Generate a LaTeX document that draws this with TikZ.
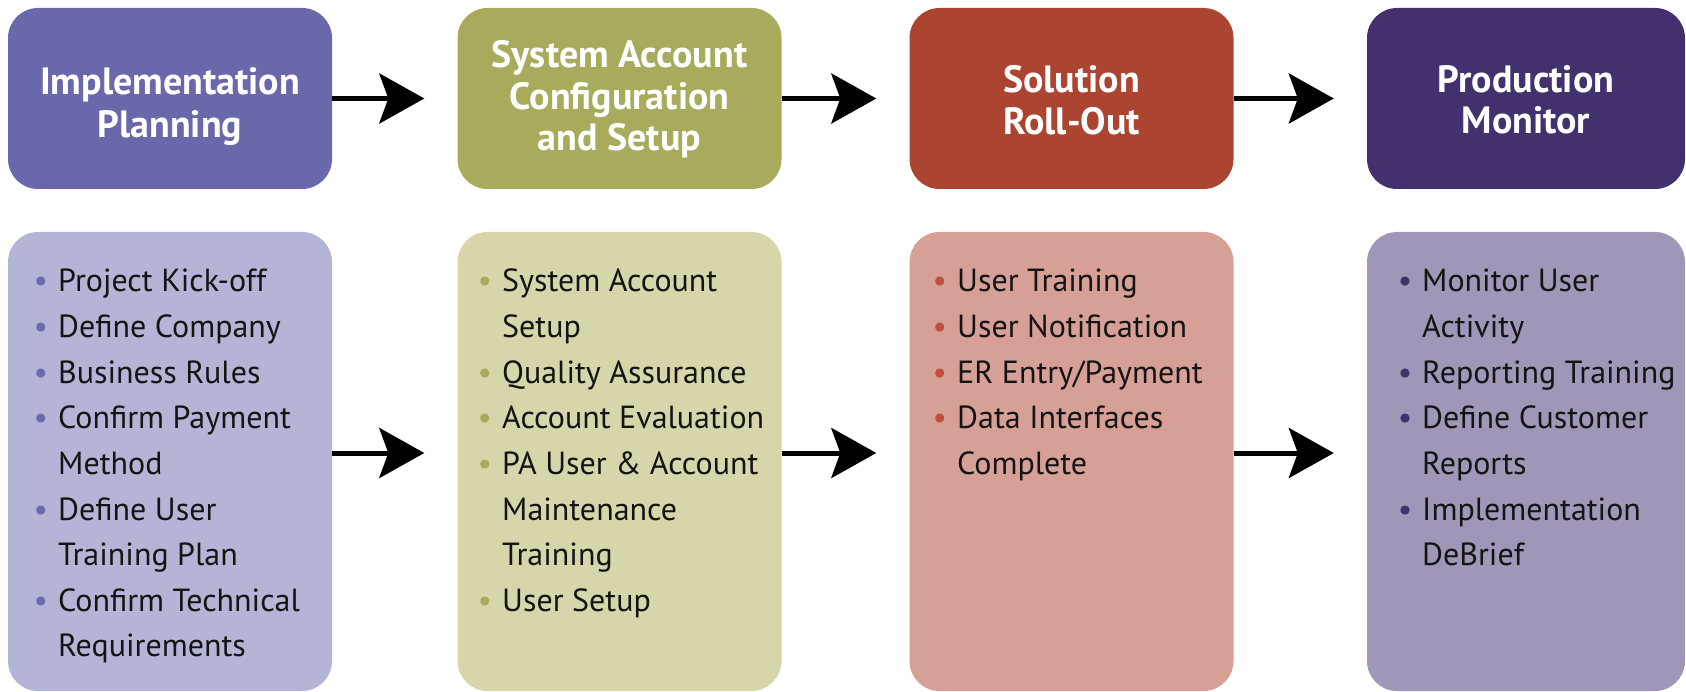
\documentclass[tikz,border=0pt]{standalone}
\usepackage{fontspec}
\setmainfont{PT Sans}
\usetikzlibrary{arrows.meta}
\definecolor{tA}{HTML}{6868AA}
\definecolor{bA}{HTML}{B4B4D6}
\definecolor{dA}{HTML}{6A6AAE}
\definecolor{tB}{HTML}{A8AA5C}
\definecolor{bB}{HTML}{D6D6AA}
\definecolor{dB}{HTML}{A8AA5C}
\definecolor{tC}{HTML}{AC4432}
\definecolor{bC}{HTML}{D6A096}
\definecolor{dC}{HTML}{C05038}
\definecolor{tD}{HTML}{43306E}
\definecolor{bD}{HTML}{A096B8}
\definecolor{dD}{HTML}{43306E}
\definecolor{txt}{HTML}{141414}
\newcommand\bul[1]{\llap{\textcolor{#1}{\textbullet}\hspace{10pt}}}
\begin{document}
\begin{tikzpicture}[x=1pt,y=-1pt,
  titlebox/.style={rounded corners=30pt, minimum width=324pt, minimum height=181pt, inner sep=0pt},
  ttl/.style={anchor=base, inner sep=0pt, text=white, font=\bfseries\fontsize{38}{42}\selectfont},
  listbox/.style={rounded corners=30pt, minimum width=324pt, minimum height=459pt, inner sep=0pt},
  item/.style={anchor=base west, inner sep=0pt, text=txt, font=\fontsize{32}{38}\selectfont},
  flow/.style={line width=5pt, -{Stealth[length=45pt, width=50pt, inset=9pt]}, shorten >=33pt}]
\useasboundingbox (0,0) rectangle (1686,692);
\fill[white] (0,0) rectangle (1686,692);
% title boxes
\node[titlebox, fill=tA] (t1) at (170,98.5) {};
\node[titlebox, fill=tB] (t2) at (619.5,98.5) {};
\node[titlebox, fill=tC] (t3) at (1071.5,98.5) {};
\node[titlebox, fill=tD, minimum width=318pt] (t4) at (1526,98.5) {};
% title texts
\node[ttl] (t1a) at (170,95) {Implementation};
\node[ttl] (t1b) at (170,138) {Planning};
\node[ttl] (t2a) at (619.5,68) {System Account};
\node[ttl] (t2b) at (619.5,110) {Configuration};
\node[ttl] (t2c) at (619.5,151) {and Setup};
\node[ttl] (t3a) at (1071.5,93) {Solution};
\node[ttl] (t3b) at (1071.5,135) {Roll-Out};
\node[ttl] (t4a) at (1526,93) {Production};
\node[ttl] (t4b) at (1526,134) {Monitor};
% list boxes
\node[listbox, fill=bA] (b1) at (170,461.5) {};
\node[listbox, fill=bB] (b2) at (619.5,461.5) {};
\node[listbox, fill=bC] (b3) at (1071.5,461.5) {};
\node[listbox, fill=bD, minimum width=318pt] (b4) at (1526,461.5) {};
% arrows
\draw[flow] (t1.east) -- (t2.west);
\draw[flow] (t2.east) -- (t3.west);
\draw[flow] (t3.east) -- (t4.west);
\draw[flow] ([yshift=8.5pt]b1.east) -- ([yshift=8.5pt]b2.west);
\draw[flow] ([yshift=8.5pt]b2.east) -- ([yshift=8.5pt]b3.west);
\draw[flow] ([yshift=8.5pt]b3.east) -- ([yshift=8.5pt]b4.west);
% list texts
\foreach \t [count=\i] in {{\bul{dA}Project Kick-off},{\bul{dA}Define Company},{\bul{dA}Business Rules},
  {\bul{dA}Confirm Payment},{Method},{\bul{dA}Define User},{Training Plan},
  {\bul{dA}Confirm Technical},{Requirements}}
  \node[item] (la-\i) at (58,{292+45.6*(\i-1)}) {\t};
\foreach \t [count=\i] in {{\bul{dB}System Account},{Setup},{\bul{dB}Quality Assurance},
  {\bul{dB}Account Evaluation},{\bul{dB}PA User \& Account},{Maintenance},{Training},
  {\bul{dB}User Setup}}
  \node[item] (lb-\i) at (502,{292+45.6*(\i-1)}) {\t};
\foreach \t [count=\i] in {{\bul{dC}User Training},{\bul{dC}User Notification},
  {\bul{dC}ER Entry/Payment},{\bul{dC}Data Interfaces},{Complete}}
  \node[item] (lc-\i) at (957,{292+45.6*(\i-1)}) {\t};
\foreach \t [count=\i] in {{\bul{dD}Monitor User},{Activity},{\bul{dD}Reporting Training},
  {\bul{dD}Define Customer},{Reports},{\bul{dD}Implementation},{DeBrief}}
  \node[item] (ld-\i) at (1422,{292+45.6*(\i-1)}) {\t};
\end{tikzpicture}
\end{document}
